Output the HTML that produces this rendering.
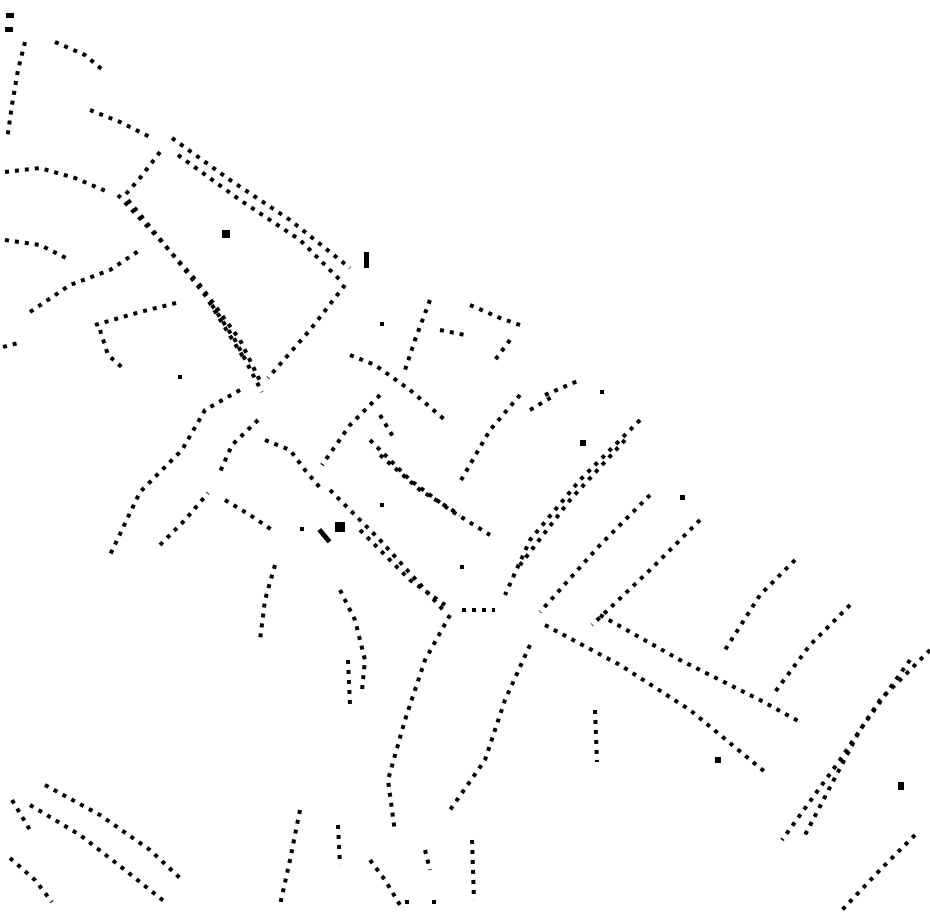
<!DOCTYPE html>
<html><head><meta charset="utf-8"><style>
html,body{margin:0;padding:0;background:#fff;width:930px;height:924px;overflow:hidden}
svg{display:block}
polyline{fill:none;stroke:#000;stroke-width:4;stroke-dasharray:4 6}
</style></head><body>
<svg width="930" height="924" viewBox="0 0 930 924" xmlns="http://www.w3.org/2000/svg">
<rect x="6" y="13" width="8" height="5"/><rect x="5" y="27" width="8" height="5"/>
<polyline points="25,42 18,70 12,105 7,140"/>
<polyline points="55,42 85,55 105,72"/>
<polyline points="90,110 120,122 150,137"/>
<polyline points="5,172 40,168 75,178 108,192"/>
<polyline points="118,195 160,240 200,285 240,340 262,385"/>
<polyline points="128,200 165,245 205,295 245,360"/>
<polyline points="172,138 230,180 290,220 350,268"/>
<polyline points="178,155 240,200 300,240 340,280"/>
<polyline points="160,152 140,178 125,195"/>
<polyline points="5,240 40,245 70,260"/>
<polyline points="30,312 70,285 110,270 140,250"/>
<polyline points="95,325 140,312 180,302"/>
<polyline points="3,347 22,342"/>
<polyline points="100,330 108,355 125,370"/>
<polyline points="212,305 235,340 262,392"/>
<polyline points="345,285 310,330 268,378"/>
<polyline points="240,390 205,410 182,450 140,492 110,555"/>
<polyline points="258,420 232,445 220,472"/>
<polyline points="160,545 185,520 208,493"/>
<polyline points="265,440 290,450 305,470 322,490"/>
<polyline points="225,500 250,515 275,532"/>
<polyline points="380,395 350,425 322,465"/>
<polyline points="350,355 375,365 410,390 445,420"/>
<polyline points="370,440 410,480 450,510 490,535"/>
<polyline points="380,455 420,490 460,515"/>
<polyline points="330,490 380,540 445,612"/>
<polyline points="360,530 410,580 445,605"/>
<polyline points="462,610 495,610"/>
<polyline points="640,420 580,480 530,540 505,595"/>
<polyline points="625,440 570,500 520,565"/>
<polyline points="650,495 600,545 540,612"/>
<polyline points="700,520 650,570 592,625"/>
<polyline points="520,395 490,430 460,482"/>
<polyline points="430,300 415,340 405,370"/>
<polyline points="470,305 500,318 520,325"/>
<polyline points="545,395 580,380"/>
<polyline points="545,625 620,665 690,710 765,772"/>
<polyline points="600,615 680,660 760,700 800,722"/>
<polyline points="795,560 760,595 725,650"/>
<polyline points="850,605 810,645 775,692"/>
<polyline points="930,650 880,700 840,760 782,840"/>
<polyline points="910,660 860,730 805,835"/>
<polyline points="915,835 880,870 842,910"/>
<polyline points="450,615 425,660 405,720 388,780 395,832"/>
<polyline points="530,645 505,700 485,760 450,810"/>
<polyline points="275,565 265,600 260,640"/>
<polyline points="340,590 355,620 365,660 362,690"/>
<polyline points="348,660 350,705"/>
<polyline points="300,810 290,860 280,905"/>
<polyline points="45,785 100,815 150,850 182,880"/>
<polyline points="30,805 80,835 125,870 165,902"/>
<polyline points="10,858 35,880 52,902"/>
<polyline points="12,800 30,830"/>
<polyline points="472,840 474,900"/>
<polyline points="595,710 597,762"/>
<polyline points="370,860 385,880 400,905"/>
<polyline points="425,850 430,870"/>
<polyline points="338,825 340,865"/>
<polyline points="440,330 465,335"/>
<polyline points="380,415 395,440"/>
<polyline points="530,410 555,395"/>
<polyline points="510,340 495,360"/>
<rect x="322" y="528" width="5" height="16" transform="rotate(-40 324 536)"/>
<rect x="335" y="522" width="10" height="10"/>
<rect x="580" y="440" width="6" height="6"/>
<rect x="898" y="782" width="6" height="8"/>
<rect x="715" y="757" width="6" height="6"/>
<rect x="364" y="252" width="5" height="16"/>
<rect x="222" y="230" width="8" height="8"/>
<rect x="380" y="322" width="4" height="4"/>
<rect x="460" y="565" width="4" height="4"/>
<rect x="178" y="375" width="4" height="4"/>
<rect x="300" y="527" width="4" height="4"/>
<rect x="380" y="503" width="4" height="4"/>
<rect x="600" y="390" width="4" height="4"/>
<rect x="680" y="495" width="5" height="5"/>
<rect x="405" y="900" width="4" height="4"/>
<rect x="432" y="900" width="4" height="4"/>
</svg>
</body></html>
